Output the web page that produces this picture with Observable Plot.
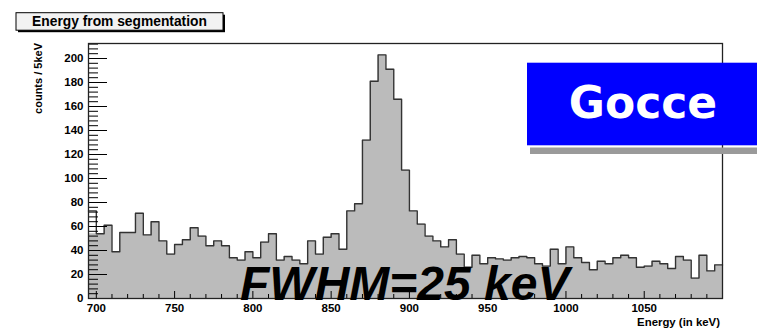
<!DOCTYPE html>
<html>
<head>
<meta charset="utf-8">
<script src="https://cdn.jsdelivr.net/npm/d3@7"></script>
<script src="https://cdn.jsdelivr.net/npm/@observablehq/plot@0.6"></script>
<style>
  html, body { margin: 0; padding: 0; background: #fff; }
  #chart { width: 757px; height: 333px; }
</style>
</head>
<body>
<div id="chart"></div>
<script>
// Bin lower edges (keV), 5 keV wide bins
const energies = [695,700,705,710,715,720,725,730,735,740,
  745,750,755,760,765,770,775,780,785,790,
  795,800,805,810,815,820,825,830,835,840,
  845,850,855,860,865,870,875,880,885,890,
  895,900,905,910,915,920,925,930,935,940,
  945,950,955,960,965,970,975,980,985,990,
  995,1000,1005,1010,1015,1020,1025,1030,1035,1040,
  1045,1050,1055,1060,1065,1070,1075,1080,1085,1090,
  1095];
const binWidth = 5;
// Counts per 5 keV bin
const counts = [73,54,61,39,55,55,71,53,64,48,
  37,45,49,59,52,44,48,44,34,32,
  39,34,47,54,32,35,32,29,48,37,
  51,54,41,73,79,132,181,203,191,166,
  107,73,62,52,48,43,49,37,26,36,
  29,34,33,32,34,35,34,29,27,41,
  29,43,34,30,24,31,29,34,36,34,
  26,27,31,29,25,35,32,17,36,23,
  28];
// the first bin's fill reaches only this level in the reference
const firstBinFill = 54;

const xDomain = [695, 1100];
const yDomain = [0, 212.5];
const xMajorTicks = [700, 750, 800, 850, 900, 950, 1000, 1050];
const xMinorTicks = d3.range(700, 1101, 10).filter(v => !xMajorTicks.includes(v));
const yMajorTicks = [0, 20, 40, 60, 80, 100, 120, 140, 160, 180, 200];
const yMinorTicks = d3.range(0, 213, 4).filter(v => v % 20 !== 0);

const titleText = "Energy from segmentation";
const yLabel = "counts / 5keV";
const xLabel = "Energy (in keV)";
const boxText = "Gocce";
const noteText = "FWHM=25 keV";

const W = 757, H = 333;
const margin = {left: 88, right: 35, top: 43, bottom: 35};
const innerW = W - margin.left - margin.right;
const innerH = H - margin.top - margin.bottom;

const outlinePts = energies.map((e, i) => ({x: e, y: counts[i]}));
outlinePts.push({x: energies[energies.length - 1] + binWidth, y: counts[counts.length - 1]});
const fillPts = outlinePts.map((d, i) => ({x: d.x, y: i === 0 ? firstBinFill : d.y}));

const font = "'Liberation Sans', Arial, Helvetica, sans-serif";

const svg = Plot.plot({
  width: W,
  height: H,
  marginLeft: margin.left,
  marginRight: margin.right,
  marginTop: margin.top,
  marginBottom: margin.bottom,
  style: {fontFamily: font, background: "#fff", overflow: "visible"},
  x: {domain: xDomain},
  y: {domain: yDomain},
  marks: [
    Plot.areaY(fillPts, {x: "x", y: "y", curve: "step-after", fill: "#bbbbbb"}),
    Plot.lineY(outlinePts, {x: "x", y: "y", curve: "step-after", stroke: "#333", strokeWidth: 1.4}),
    Plot.tickY(yMajorTicks, {y: d => d, stroke: "#000", strokeWidth: 1, insetRight: innerW - 19}),
    Plot.tickY(yMinorTicks, {y: d => d, stroke: "#000", strokeWidth: 1, insetRight: innerW - 10}),
    Plot.tickX(xMajorTicks, {x: d => d, stroke: "#000", strokeWidth: 1, insetTop: innerH - 7}),
    Plot.tickX(xMinorTicks, {x: d => d, stroke: "#000", strokeWidth: 1, insetTop: innerH - 4}),
    Plot.frame({stroke: "#222", strokeWidth: 1.3}),
    Plot.axisX({ticks: xMajorTicks, tickFormat: d => String(d), tickSize: 0, tickPadding: 5, label: null, fontSize: 11.5, fontWeight: "bold", fill: "#000"}),
    Plot.axisY({ticks: yMajorTicks, tickFormat: d => String(d), tickSize: 0, tickPadding: 5, label: null, fontSize: 11.5, fontWeight: "bold", fill: "#000"})
  ]
});

document.getElementById("chart").appendChild(svg);

const s = d3.select(svg);

// Y axis title
s.append("text")
  .attr("transform", "translate(42,43) rotate(-90)")
  .attr("text-anchor", "end")
  .attr("font-family", font)
  .attr("font-weight", "bold")
  .attr("font-size", 11)
  .attr("fill", "#000")
  .text(yLabel);

// X axis title
s.append("text")
  .attr("x", 720).attr("y", 326)
  .attr("text-anchor", "end")
  .attr("font-family", font)
  .attr("font-weight", "bold")
  .attr("font-size", 11.4)
  .attr("fill", "#000")
  .text(xLabel);

// Title box with shadow
s.append("rect").attr("x", 18).attr("y", 14.7).attr("width", 207).attr("height", 17.5).attr("fill", "#000");
s.append("rect").attr("x", 16).attr("y", 12.7).attr("width", 207).attr("height", 17.5)
  .attr("fill", "#f2f2f2").attr("stroke", "#000").attr("stroke-width", 1);
s.append("text")
  .attr("x", 119.5).attr("y", 25.5)
  .attr("text-anchor", "middle")
  .attr("font-family", font)
  .attr("font-weight", "bold")
  .attr("font-size", 13.8)
  .attr("fill", "#000")
  .text(titleText);

// Gocce box with shadow
s.append("rect").attr("x", 530).attr("y", 147.5).attr("width", 240).attr("height", 6.5).attr("fill", "#9a9a9a");
s.append("rect").attr("x", 527).attr("y", 62.7).attr("width", 240).attr("height", 82.6).attr("fill", "#0000ff");
s.append("text")
  .attr("x", 643).attr("y", 118)
  .attr("text-anchor", "middle")
  .attr("font-family", "'DejaVu Sans', sans-serif")
  .attr("font-weight", "bold")
  .attr("font-size", 44)
  .attr("fill", "#fff")
  .text(boxText);

// FWHM annotation
s.append("text")
  .attr("x", 240).attr("y", 300)
  .attr("text-anchor", "start")
  .attr("font-family", font)
  .attr("font-weight", "bold")
  .attr("font-style", "italic")
  .attr("font-size", 48)
  .attr("fill", "#000")
  .text(noteText);
</script>
</body>
</html>
